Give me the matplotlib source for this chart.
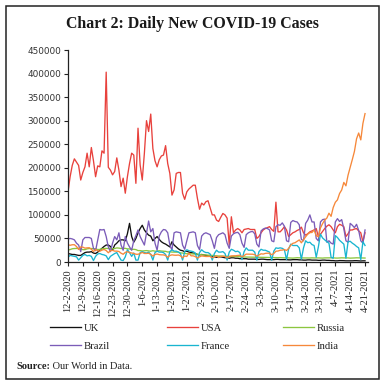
import numpy as np
import matplotlib
matplotlib.use("Agg")
import matplotlib.pyplot as plt
from matplotlib.patches import Rectangle

# ---------------- data (daily new cases, thousands) ----------------
tick_labels = ["12-2-2020", "12-9-2020", "12-16-2020", "12-23-2020", "12-30-2020",
               "1-6-2021", "1-13-2021", "1-20-2021", "1-27-2021", "2-3-2021",
               "2-10-2021", "2-17-2021", "2-24-2021", "3-3-2021", "3-10-2021",
               "3-17-2021", "3-24-2021", "3-31-2021", "4-7-2021", "4-14-2021",
               "4-21-2021"]

uk = [18, 17, 16, 16, 15, 14, 14,
      17, 20, 21, 21, 22, 19, 18,
      21, 25, 29, 33, 36, 36, 33,
      25, 36, 40, 45, 47, 47, 45,
      60, 82, 54, 42, 50, 62, 71,
      78, 68, 62, 57, 55, 45, 50,
      54, 48, 43, 40, 38, 35, 32,
      43, 36, 32, 28, 25, 24, 22,
      23, 21, 20, 19, 18, 16, 15,
      16, 15, 14, 13, 12, 12, 11,
      10, 10, 11, 10, 9, 9, 8,
      9, 9, 8, 8, 7, 7, 7,
      7, 6, 6, 6, 6, 5.5, 5.5,
      6, 6, 5.5, 5, 5, 5, 5,
      5.5, 5.5, 5, 5, 5, 5, 4.5,
      4.5, 5, 5, 5, 4.5, 4.5, 4,
      4, 4.5, 4.5, 4, 4, 4, 3.5,
      3.5, 4, 4, 3.5, 3.5, 3, 3,
      2.5, 2.5, 3, 3, 2.8, 2.5, 2.5,
      2.5, 2.5, 2.8, 2.8, 2.5, 2.2, 2.5,
      2.5]

usa = [149, 181, 205, 219, 212, 205, 174,
       190, 202, 231, 202, 243, 215, 181,
       204, 202, 236, 231, 403, 201, 195,
       185, 192, 221, 195, 160, 178, 146,
       181, 209, 231, 227, 167, 284, 206,
       174, 231, 300, 277, 314, 241, 215,
       202, 217, 225, 227, 247, 209, 188,
       142, 153, 188, 190, 190, 146, 133,
       149, 155, 159, 163, 163, 135, 112,
       125, 121, 128, 130, 115, 100, 100,
       89, 86, 95, 103, 100, 93, 36,
       96, 62, 68, 71, 68, 62, 69,
       70, 71, 69, 69, 69, 50, 54,
       62, 68, 71, 73, 75, 69, 65,
       127, 64, 64, 69, 75, 68, 54,
       58, 62, 64, 67, 69, 74, 62,
       57, 60, 64, 66, 68, 71, 54,
       59, 65, 71, 76, 79, 75, 68,
       62, 75, 80, 78, 75, 54, 60,
       68, 68, 70, 71, 66, 62, 43,
       62]

russia = [25.3, 26.4, 28.1, 28.6, 28.8, 29.0, 28.1,
          26.1, 26.2, 27.9, 28.6, 28.6, 28.1, 28.1,
          26.4, 26.7, 27.9, 28.6, 28.9, 28.5, 29.4,
          28.0, 28.6, 29.9, 29.5, 28.6, 28.9, 29.0,
          27.8, 27.8, 26.5, 27.0, 26.3, 24.2, 24.2,
          23.4, 23.7, 24.2, 23.5, 22.9, 24.0, 23.0,
          22.9, 24.0, 23.2, 22.9, 22.6, 21.2, 21.7,
          21.1, 21.0, 20.9, 21.1, 19.3, 19.0, 18.0,
          17.6, 17.6, 17.4, 17.0, 16.8, 16.6, 16.0,
          15.4, 15.2, 14.9, 14.5, 14.3, 14.0, 13.4,
          13.0, 12.8, 12.7, 12.5, 12.2, 12.0, 11.8,
          11.5, 11.4, 11.6, 11.3, 11.0, 10.9, 10.6,
          10.5, 10.6, 10.2, 10.0, 9.9, 9.9, 9.8,
          9.6, 9.5, 9.4, 9.3, 9.6, 9.5, 9.1,
          9.0, 9.2, 9.3, 9.0, 8.8, 8.9, 8.7,
          8.6, 8.3, 8.8, 9.1, 8.8, 8.7, 8.6,
          8.3, 8.3, 8.5, 8.8, 8.6, 8.7, 8.7,
          8.5, 8.3, 8.7, 8.8, 8.8, 9.0, 8.9,
          8.4, 8.3, 8.6, 8.9, 8.7, 8.8, 8.7,
          8.2, 8.3, 8.6, 8.9, 8.8, 8.9, 8.7,
          8.4]

brazil = [49, 50, 49, 47, 40, 36, 22,
          47, 52, 52, 52, 50, 29, 24,
          47, 69, 68, 69, 54, 32, 22,
          40, 54, 47, 62, 36, 25, 54,
          40, 32, 25, 45, 56, 68, 54,
          45, 36, 62, 87, 64, 71, 40,
          25, 55, 64, 69, 68, 62, 36,
          25, 62, 64, 63, 62, 36, 27,
          45, 62, 63, 64, 62, 35, 26,
          55, 60, 62, 60, 58, 45, 29,
          52, 58, 60, 62, 58, 40, 29,
          55, 60, 62, 63, 58, 40, 31,
          58, 62, 64, 65, 60, 38, 32,
          66, 70, 72, 71, 68, 45, 43,
          75, 79, 78, 83, 76, 45, 43,
          84, 88, 86, 85, 79, 48, 45,
          82, 89, 100, 85, 85, 50, 45,
          85, 90, 91, 42, 45, 40, 38,
          85, 92, 86, 90, 71, 45, 42,
          82, 78, 73, 80, 67, 45, 40,
          68]

france = [10, 14, 13, 12, 11, 4, 9,
          14, 16, 13, 14, 12, 3, 12,
          17, 18, 16, 15, 13, 5, 12,
          15, 18, 20, 12, 4, 3, 11,
          26, 20, 12, 19, 4, 4, 20,
          22, 20, 19, 21, 16, 4, 20,
          23, 21, 21, 20, 16, 4, 22,
          26, 23, 23, 21, 18, 4, 22,
          26, 24, 23, 22, 19, 4, 20,
          26, 22, 20, 20, 17, 4, 18,
          25, 21, 21, 22, 18, 4, 21,
          27, 25, 22, 23, 20, 5, 22,
          30, 25, 25, 25, 21, 4, 22,
          27, 25, 25, 23, 21, 4, 23,
          30, 29, 30, 29, 26, 5, 28,
          38, 35, 35, 35, 30, 6, 30,
          45, 41, 42, 37, 35, 10, 32,
          59, 51, 47, 43, 40, 10, 8,
          56, 52, 46, 42, 38, 8, 43,
          44, 40, 37, 33, 30, 5, 43,
          35]

india = [36.6, 35.5, 36.6, 36.7, 32.9, 26.6, 32.1,
         31.5, 29.4, 30.0, 30.3, 27.1, 22.1, 26.4,
         24.0, 22.9, 25.2, 26.6, 24.3, 19.6, 23.9,
         24.7, 23.1, 23.1, 22.3, 18.7, 16.4, 20.5,
         21.8, 20.0, 19.1, 18.2, 16.5, 16.4, 18.1,
         20.3, 18.1, 18.1, 18.6, 16.3, 12.6, 15.9,
         16.9, 15.6, 15.2, 15.1, 13.8, 10.1, 13.8,
         15.2, 14.5, 14.3, 14.8, 13.2, 9.1, 12.7,
         11.7, 18.9, 13.1, 13.1, 11.4, 8.6, 11.0,
         12.9, 12.4, 11.7, 11.7, 11.8, 9.1, 11.1,
         12.9, 9.3, 12.1, 12.2, 11.6, 9.1, 11.6,
         12.9, 13.2, 13.2, 13.9, 14.3, 10.6, 13.7,
         16.7, 16.6, 16.6, 16.5, 15.5, 12.3, 14.9,
         17.4, 16.8, 18.3, 18.7, 18.6, 15.4, 17.9,
         22.9, 23.3, 24.9, 25.3, 26.3, 24.5, 28.9,
         35.9, 39.7, 40.9, 43.8, 46.9, 40.7, 47.3,
         53.5, 59.1, 62.3, 62.7, 68.0, 56.2, 53.5,
         72.3, 81.5, 89.1, 93.2, 103.6, 96.9, 115.7,
         126.8, 131.9, 145.4, 152.9, 168.9, 161.7, 184.4,
         200.7, 217.4, 234.7, 261.5, 273.8, 259.2, 294.1,
         315.0]

series_names = ["UK", "USA", "Russia", "Brazil", "France", "India"]
series_vals = [uk, usa, russia, brazil, france, india]
colors = ["#111111", "#e8413c", "#8cc63f", "#7b5cb8", "#19b5d0", "#f6883a"]

# ---------------- figure ----------------
fig = plt.figure(figsize=(3.84, 3.87), dpi=100)
W, H = 384, 387

# outer frame
fig.patches.append(Rectangle((6 / W, 1 - 379 / H), 373 / W, 373 / H,
                             transform=fig.transFigure, fill=False,
                             edgecolor="#222222", linewidth=1.1))

fig.text(0.5, 1 - 23.5 / H, "Chart 2: Daily New COVID-19 Cases",
         ha="center", va="center", fontsize=11.4, fontweight="bold",
         family="Liberation Serif", color="#1a1a1a")

ax = fig.add_axes([68 / W, 1 - 262 / H, (368 - 68) / W, (262 - 50) / H])

lines = []
for name, vals, c in zip(series_names, series_vals, colors):
    x = np.arange(len(vals))
    ln, = ax.plot(x, np.array(vals) * 1000, color=c, lw=0.95, label=name)
    lines.append(ln)

ax.set_xlim(0, 141.4)
ax.set_ylim(0, 450000)
ax.set_yticks(np.arange(0, 450001, 50000))
ax.set_yticklabels([f"{v:d}" for v in range(0, 450001, 50000)],
                   fontsize=6.4, family="DejaVu Sans", color="#333333")
ax.set_xticks(np.arange(0, 141, 7))
ax.set_xticklabels(tick_labels, rotation=90, fontsize=7.4,
                   family="Liberation Serif", color="#222222")
for s in ["top", "right"]:
    ax.spines[s].set_visible(False)
for s in ["left", "bottom"]:
    ax.spines[s].set_linewidth(0.9)
    ax.spines[s].set_color("#222222")
ax.tick_params(axis="both", length=3, width=0.8, color="#222222", pad=2)

# legend: three columns, two rows
cols = [(lines[0], lines[3]), (lines[1], lines[4]), (lines[2], lines[5])]
xs = [50, 167, 283]
for (a, b), xp in zip(cols, xs):
    leg = fig.legend(handles=[a, b], labels=[a.get_label(), b.get_label()],
                     loc="center left", bbox_to_anchor=(xp / W, 1 - 337 / H),
                     frameon=False, borderpad=0, borderaxespad=0,
                     handlelength=2.9, handletextpad=0.25, labelspacing=0.78,
                     prop={"family": "Liberation Serif", "size": 7.7})
    for t in leg.get_texts():
        t.set_color("#222222")

t1 = fig.text(16 / W, 1 - 366.7 / H, "Source:", fontsize=7.5, fontweight="bold",
              family="Liberation Serif", va="center", ha="left", color="#222222")
ax.annotate(" Our World in Data.", xy=(1, 0), xycoords=t1, va="bottom", ha="left",
            fontsize=7.5, family="Liberation Serif", color="#222222",
            annotation_clip=False)

fig.savefig("out.png", dpi=100)
